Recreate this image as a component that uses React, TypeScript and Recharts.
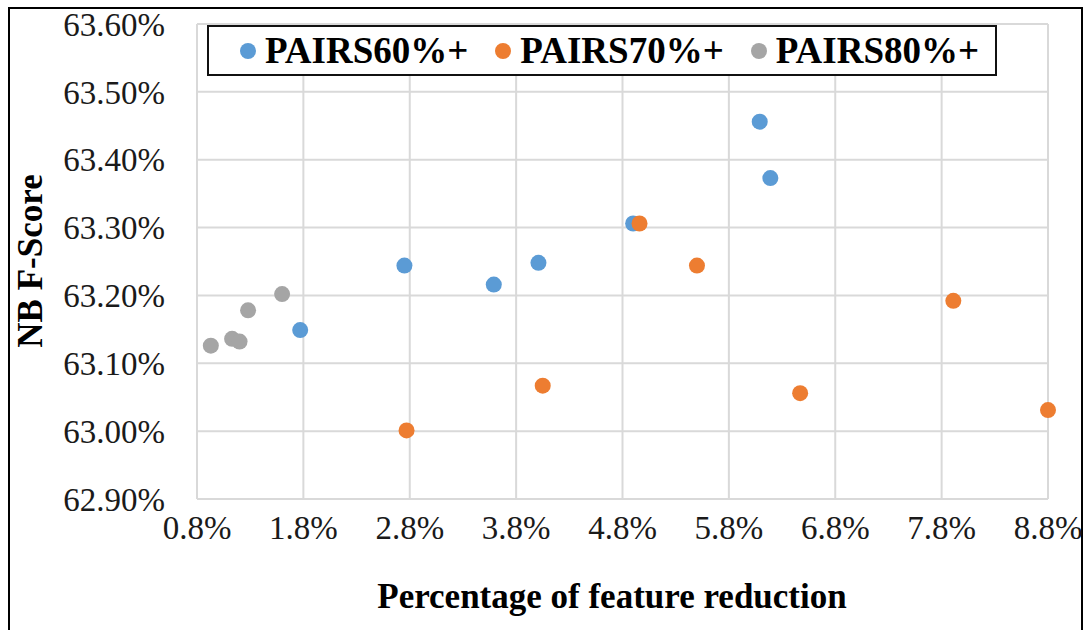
import {
  CartesianGrid,
  Scatter,
  ScatterChart,
  XAxis,
  YAxis,
} from "recharts";

const SERIES_NAMES = ["PAIRS60%+", "PAIRS70%+", "PAIRS80%+"];
const COLORS = ["#5b9bd5", "#ed7d31", "#a5a5a5"];

const pairs60X = [1.77, 2.75, 3.59, 4.01, 4.9, 6.09, 6.19];
const pairs60Y = [63.149, 63.244, 63.216, 63.248, 63.306, 63.456, 63.373];

const pairs70X = [2.77, 4.05, 4.96, 5.5, 6.47, 7.91, 8.8];
const pairs70Y = [63.001, 63.067, 63.306, 63.244, 63.056, 63.192, 63.031];

const pairs80X = [0.93, 1.13, 1.2, 1.28, 1.6];
const pairs80Y = [63.126, 63.136, 63.132, 63.178, 63.202];

const X_TICKS = [0.8, 1.8, 2.8, 3.8, 4.8, 5.8, 6.8, 7.8, 8.8];
const Y_TICKS = [62.9, 63.0, 63.1, 63.2, 63.3, 63.4, 63.5, 63.6];

const toPoints = (xs: number[], ys: number[]) =>
  xs.map((x, i) => ({ x, y: ys[i] }));

const seriesData = [
  toPoints(pairs60X, pairs60Y),
  toPoints(pairs70X, pairs70Y),
  toPoints(pairs80X, pairs80Y),
];

const FONT = '"Liberation Serif", "Times New Roman", serif';
const GRID = "#d9d9d9";

// legend drawn as an overlay box, like the excel one sitting on top of the plot
function LegendBox() {
  return (
    <div
      style={{
        position: "absolute",
        left: 207,
        top: 25,
        boxSizing: "border-box",
        width: 790,
        height: 51,
        paddingLeft: 31,
        border: "2px solid #111",
        background: "#fff",
        display: "flex",
        alignItems: "center",
        gap: 27,
        fontFamily: FONT,
        fontWeight: "bold",
        fontSize: 37,
        color: "#000",
      }}
    >
      {SERIES_NAMES.map((name, i) => (
        <div key={name} style={{ display: "flex", alignItems: "center" }}>
          <span
            style={{
              width: 16,
              height: 16,
              borderRadius: "50%",
              background: COLORS[i],
              marginRight: 9,
              display: "inline-block",
            }}
          />
          <span>{name}</span>
        </div>
      ))}
    </div>
  );
}

const Dot = (color: string) => (props: any) =>
  <circle cx={props.cx} cy={props.cy} r={8} fill={color} />;

export default function App() {
  return (
    <div
      style={{
        position: "absolute",
        left: 0,
        top: 0,
        width: 1088,
        height: 630,
        overflow: "hidden",
        background: "#fff",
      }}
    >
      <div
        style={{
          position: "absolute",
          left: 8,
          top: 7,
          width: 1075,
          height: 660,
          boxSizing: "border-box",
          border: "2px solid #000",
        }}
      />
      <div style={{ position: "absolute", left: 0, top: 0 }}>
        <ScatterChart
          width={1088}
          height={630}
          margin={{ top: 24, right: 40, bottom: 0, left: 0 }}
        >
          <CartesianGrid stroke={GRID} strokeWidth={2} />
          <XAxis
            type="number"
            dataKey="x"
            domain={[0.8, 8.8]}
            ticks={X_TICKS}
            tickFormatter={(v: number) => `${v.toFixed(1)}%`}
            height={131}
            axisLine={{ stroke: GRID, strokeWidth: 2 }}
            tickLine={false}
            tickSize={0}
            tickMargin={17}
            tick={{ fontFamily: FONT, fontSize: 33, fill: "#1a1a1a" }}
            interval={0}
            label={{
              content: () => (
                <text
                  x={612}
                  y={608}
                  textAnchor="middle"
                  fontFamily={FONT}
                  fontWeight="bold"
                  fontSize={35}
                  fill="#000"
                >
                  Percentage of feature reduction
                </text>
              ),
            }}
          />
          <YAxis
            type="number"
            dataKey="y"
            domain={[62.9, 63.6]}
            ticks={Y_TICKS}
            tickFormatter={(v: number) => `${v.toFixed(2)}%`}
            width={197}
            axisLine={{ stroke: GRID, strokeWidth: 2 }}
            tickLine={false}
            tickSize={0}
            tickMargin={32}
            tick={{ fontFamily: FONT, fontSize: 33, fill: "#1a1a1a" }}
            interval={0}
            label={{
              content: () => (
                <text
                  x={0}
                  y={0}
                  transform="translate(42, 261) rotate(-90)"
                  textAnchor="middle"
                  fontFamily={FONT}
                  fontWeight="bold"
                  fontSize={35}
                  fill="#000"
                >
                  NB F-Score
                </text>
              ),
            }}
          />
          {seriesData.map((d, i) => (
            <Scatter
              key={SERIES_NAMES[i]}
              name={SERIES_NAMES[i]}
              data={d}
              fill={COLORS[i]}
              shape={Dot(COLORS[i])}
              isAnimationActive={false}
            />
          ))}
        </ScatterChart>
      </div>
      <LegendBox />
    </div>
  );
}
